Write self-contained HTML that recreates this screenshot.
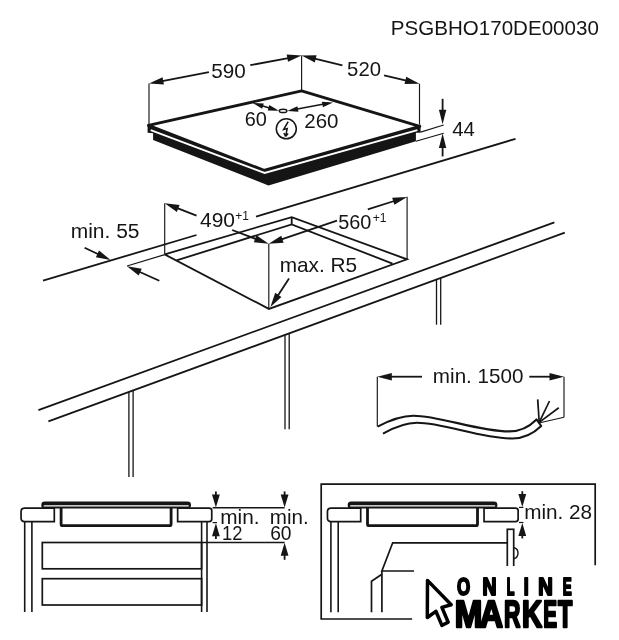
<!DOCTYPE html>
<html><head><meta charset="utf-8"><title>PSGBHO170DE00030</title>
<style>
html,body{margin:0;padding:0;background:#fff;}
svg{display:block;will-change:transform;}
svg text{font-family:"Liberation Sans",Arial,sans-serif;fill:#151515;}
svg text.lg{font-weight:bold;fill:#000;stroke:#000;stroke-linejoin:round;}
svg line,svg polyline{stroke:#151515;}
</style></head><body>
<svg width="619" height="640" viewBox="0 0 619 640">
<rect width="619" height="640" fill="#fff"/>
<text transform="translate(390.86 35.4) scale(1.0178 1)" font-size="20.2">PSGBHO170DE00030</text>
<polygon points="147.6,124.6 264,170.3 420.6,124.6 420.6,132.8 415.9,132.8 415.9,141.2 268.5,185.4 153.1,140 153.1,133.3 147.6,132.8" fill="#151515" stroke="none"/>
<polygon points="148.4,125.4 301.6,90.9 419.8,126.3 264,170.3" fill="#fff" stroke="#151515" stroke-width="2.9" stroke-linejoin="round"/>
<polyline points="150.7,130.1 264.6,173 417.4,130.2" style="stroke:#fff" stroke-width="1.9" fill="none"/>
<line x1="149" y1="83.6" x2="149" y2="124.5" stroke-width="1.15" />
<line x1="301.6" y1="55.5" x2="301.6" y2="90.9" stroke-width="1.15" />
<line x1="419.5" y1="83.7" x2="419.5" y2="124.4" stroke-width="1.15" />
<polygon points="149.00,83.60 163.94,84.52 162.55,77.25" fill="#151515" stroke="none"/>
<line x1="162.26" y1="81.08" x2="208.9" y2="72.2" stroke-width="1.8" />
<polygon points="301.60,55.50 286.67,54.56 288.04,61.83" fill="#151515" stroke="none"/>
<line x1="288.34" y1="58.01" x2="250.3" y2="65.2" stroke-width="1.8" />
<text transform="translate(211.17 78.2) scale(1.0243 1)" font-size="20.2">590</text>
<polygon points="301.60,55.50 314.83,62.48 316.56,55.29" fill="#151515" stroke="none"/>
<line x1="314.73" y1="58.65" x2="342.4" y2="65.3" stroke-width="1.8" />
<polygon points="419.50,83.70 406.25,76.75 404.54,83.95" fill="#151515" stroke="none"/>
<line x1="406.36" y1="80.58" x2="384.1" y2="75.3" stroke-width="1.8" />
<text transform="translate(347.09 75.6) scale(1.0057 1)" font-size="20.2">520</text>
<line x1="420.6" y1="132.1" x2="443.7" y2="125" stroke-width="1.15" />
<line x1="415.9" y1="141.2" x2="443.7" y2="133.2" stroke-width="1.15" />
<polygon points="442.60,124.20 446.30,109.70 438.90,109.70" fill="#151515" stroke="none"/>
<line x1="442.6" y1="110.7" x2="442.6" y2="98.8" stroke-width="1.8" />
<polygon points="442.60,133.60 438.90,148.10 446.30,148.10" fill="#151515" stroke="none"/>
<line x1="442.6" y1="147.1" x2="442.6" y2="156.4" stroke-width="1.8" />
<text transform="translate(452.29 135.5) scale(1.0087 1)" font-size="20.2">44</text>
<polygon points="252.60,103.00 262.15,108.77 263.75,103.41" fill="#151515" stroke="none"/>
<polygon points="278.90,110.70 269.29,105.03 267.75,110.41" fill="#151515" stroke="none"/>
<line x1="257" y1="104.3" x2="274.5" y2="109.4" stroke-width="1.6" />
<ellipse cx="283.1" cy="110.9" rx="3.8" ry="1.6" fill="#fff" stroke="#151515" stroke-width="1.4"/>
<polygon points="287.30,110.90 298.43,111.69 297.41,106.18" fill="#151515" stroke="none"/>
<polygon points="333.00,102.40 321.87,101.63 322.90,107.14" fill="#151515" stroke="none"/>
<line x1="292" y1="110" x2="328" y2="103.3" stroke-width="1.6" />
<text transform="translate(244.80 125.9) scale(0.9853 1)" font-size="20.2">60</text>
<text transform="translate(304.27 127.6) scale(1.0152 1)" font-size="20.2">260</text>
<circle cx="286.3" cy="128.8" r="10" fill="none" stroke="#151515" stroke-width="1.5"/>
<path d="M288.2,121.6 L283.6,129.6 L287.2,128.6 L285.6,136.4 M285.6,136.4 l-1.7,-3.4 M285.6,136.4 l2.5,-2.8" fill="none" stroke="#151515" stroke-width="1.5"/>
<line x1="43" y1="280.6" x2="196.5" y2="235" stroke-width="1.8" />
<line x1="256" y1="216.6" x2="515.5" y2="138.8" stroke-width="1.8" />
<line x1="38.4" y1="410.1" x2="554.4" y2="222.3" stroke-width="1.8" />
<line x1="48.4" y1="421.4" x2="564.8" y2="232.6" stroke-width="1.8" />
<line x1="128.9" y1="392" x2="128.9" y2="477" stroke-width="1.3" />
<line x1="133.1" y1="390.5" x2="133.1" y2="477" stroke-width="1.3" />
<line x1="285" y1="335.2" x2="285" y2="429.3" stroke-width="1.3" />
<line x1="289.2" y1="333.7" x2="289.2" y2="429.3" stroke-width="1.3" />
<line x1="436.5" y1="279.8" x2="436.5" y2="324.7" stroke-width="1.3" />
<line x1="440.7" y1="278.3" x2="440.7" y2="324.7" stroke-width="1.3" />
<polyline points="164.7,254.4 291.7,217.1 407,259.3 268.9,308.9 164.7,254.4" stroke-width="1.8" fill="none" />
<polyline points="176.5,260.4 291.7,224.4 392.5,263.6" stroke-width="1.8" fill="none" />
<line x1="291.7" y1="217.1" x2="291.7" y2="224.4" stroke-width="1.8" />
<line x1="164.7" y1="203.3" x2="164.7" y2="254.4" stroke-width="1.15" />
<line x1="268.8" y1="243.8" x2="268.8" y2="308.9" stroke-width="1.15" />
<line x1="407.1" y1="196.8" x2="407.1" y2="259.3" stroke-width="1.15" />
<line x1="127" y1="266" x2="164.7" y2="254.6" stroke-width="1.15" />
<polygon points="110.60,260.00 99.04,250.49 95.90,257.19" fill="#151515" stroke="none"/>
<line x1="98.38" y1="254.27" x2="84.6" y2="247.8" stroke-width="1.8" />
<polygon points="127.00,266.20 138.69,275.54 141.74,268.80" fill="#151515" stroke="none"/>
<line x1="139.3" y1="271.76" x2="159.3" y2="280.8" stroke-width="1.8" />
<text transform="translate(70.74 238) scale(1.0384 1)" font-size="20.2">min. 55</text>
<polygon points="164.70,203.30 176.89,211.98 179.56,205.08" fill="#151515" stroke="none"/>
<line x1="177.29" y1="208.17" x2="196.5" y2="215.6" stroke-width="1.8" />
<polygon points="268.70,243.80 256.44,235.22 253.83,242.15" fill="#151515" stroke="none"/>
<line x1="256.07" y1="239.04" x2="232.1" y2="230" stroke-width="1.8" />
<text transform="translate(199.98 226.7) scale(1.0393 1)" font-size="20.2">490</text>
<text transform="translate(235.16 219.5) scale(0.9677 1)" font-size="12.4">+1</text>
<polygon points="268.70,243.80 283.62,242.64 281.24,235.63" fill="#151515" stroke="none"/>
<line x1="281.48" y1="239.46" x2="337" y2="220.6" stroke-width="1.8" />
<polygon points="407.10,196.90 392.16,197.77 394.40,204.82" fill="#151515" stroke="none"/>
<line x1="394.24" y1="200.99" x2="367.8" y2="209.4" stroke-width="1.8" />
<text transform="translate(338.21 228.6) scale(0.9839 1)" font-size="20.2">560</text>
<text transform="translate(372.76 222.1) scale(0.9754 1)" font-size="12.4">+1</text>
<text transform="translate(279.65 272.4) scale(1.0312 1)" font-size="20.2">max. R5</text>
<polygon points="270.40,307.00 281.42,296.88 275.23,292.84" fill="#151515" stroke="none"/>
<line x1="277.78" y1="295.69" x2="289" y2="278.5" stroke-width="1.8" />
<line x1="377.3" y1="376.7" x2="377.3" y2="426.4" stroke-width="1.15" />
<line x1="564" y1="376.7" x2="564" y2="417.2" stroke-width="1.15" />
<line x1="564" y1="417.2" x2="540" y2="422.8" stroke-width="1.15" />
<polygon points="377.30,376.70 391.80,380.40 391.80,373.00" fill="#151515" stroke="none"/>
<line x1="390.8" y1="376.7" x2="422" y2="376.7" stroke-width="1.8" />
<polygon points="564.00,376.70 549.50,373.00 549.50,380.40" fill="#151515" stroke="none"/>
<line x1="550.5" y1="376.7" x2="529.3" y2="376.7" stroke-width="1.8" />
<text transform="translate(432.86 382.9) scale(1.0224 1)" font-size="20.2">min. 1500</text>
<path d="M377.6,426.6 C390,420 402,415.7 413.3,415.7 C440,415.7 478,431.4 509,431.4 C520,431.4 530,426 536.5,419.4 L541.2,426 C534,433 524,438.5 512.3,438.5 C481,438.5 444,422.8 416.9,422.8 C405,422.8 394,427.5 383,433.6" fill="none" stroke="#151515" stroke-width="2.1" stroke-linejoin="round"/>
<line x1="539.2" y1="422.4" x2="537.7" y2="399.4" stroke-width="1.7" />
<line x1="539.2" y1="422.4" x2="549.5" y2="401" stroke-width="1.7" />
<line x1="539.2" y1="422.4" x2="558.8" y2="407.8" stroke-width="1.7" />
<g transform="translate(0 0)">
<path d="M54.3,508.05 H24.6 Q21.05,508.05 21.05,511.6 V518.1 Q21.05,521.65 24.6,521.65 H54.3 Z" fill="#fff" stroke="#151515" stroke-width="1.7"/>
<path d="M177.65,508.05 H209.2 Q211.75,508.05 211.75,510.6 V519.1 Q211.75,521.65 209.2,521.65 H177.65 Z" fill="#fff" stroke="#151515" stroke-width="1.7"/>
<path d="M61.1,508 V523.9 Q61.1,525.7 62.9,525.7 H169.3 Q171.1,525.7 171.1,523.9 V508" fill="none" stroke="#151515" stroke-width="2.8"/>
<rect x="41.3" y="501.5" width="149.7" height="7.1" rx="3.4" ry="3.4" fill="#151515" stroke="none"/>
<line x1="44.3" y1="505.9" x2="188.2" y2="505.9" style="stroke:#fff" stroke-width="1.3" stroke-linecap="round"/>
</g>
<line x1="24.7" y1="522" x2="24.7" y2="612" stroke-width="1.6" />
<line x1="31.9" y1="522" x2="31.9" y2="612" stroke-width="1.6" />
<line x1="201.6" y1="522" x2="201.6" y2="612" stroke-width="1.6" />
<line x1="207" y1="522" x2="207" y2="612" stroke-width="1.6" />
<rect x="42.3" y="542.5" width="159.3" height="26.3" fill="none" stroke="#151515" stroke-width="1.7"/>
<rect x="42.3" y="578.7" width="159.3" height="26.3" fill="none" stroke="#151515" stroke-width="1.7"/>
<line x1="212.6" y1="507.7" x2="284.6" y2="507.7" stroke-width="1.4" />
<line x1="212.6" y1="522.6" x2="217" y2="522.6" stroke-width="1.2" />
<line x1="202" y1="542.5" x2="284.6" y2="542.5" stroke-width="1.4" />
<polygon points="215.90,507.40 219.80,494.40 212.00,494.40" fill="#151515" stroke="none"/>
<line x1="215.9" y1="495.4" x2="215.9" y2="491.4" stroke-width="1.8" />
<polygon points="215.90,523.20 212.00,536.20 219.80,536.20" fill="#151515" stroke="none"/>
<line x1="215.9" y1="535.2" x2="215.9" y2="539" stroke-width="1.8" />
<polygon points="284.60,507.40 288.50,494.40 280.70,494.40" fill="#151515" stroke="none"/>
<line x1="284.6" y1="495.4" x2="284.6" y2="491.4" stroke-width="1.8" />
<polygon points="284.60,542.80 280.70,555.80 288.50,555.80" fill="#151515" stroke="none"/>
<line x1="284.6" y1="554.8" x2="284.6" y2="559.8" stroke-width="1.8" />
<text transform="translate(220.25 523.9) scale(1.0509 1)" font-size="19.8">min.</text>
<text transform="translate(222.02 540.4) scale(0.9285 1)" font-size="19.8">12</text>
<text transform="translate(269.76 523.9) scale(1.0421 1)" font-size="19.8">min.</text>
<text transform="translate(270.14 540.4) scale(0.9707 1)" font-size="19.8">60</text>
<polyline points="412.1,619 321.2,619 321.2,484.1 595.2,484.1 595.2,565.3" stroke-width="1.7" fill="none" />
<g transform="translate(306.4 0)">
<path d="M54.3,508.05 H24.6 Q21.05,508.05 21.05,511.6 V518.1 Q21.05,521.65 24.6,521.65 H54.3 Z" fill="#fff" stroke="#151515" stroke-width="1.7"/>
<path d="M177.65,508.05 H209.2 Q211.75,508.05 211.75,510.6 V519.1 Q211.75,521.65 209.2,521.65 H177.65 Z" fill="#fff" stroke="#151515" stroke-width="1.7"/>
<path d="M61.1,508 V523.9 Q61.1,525.7 62.9,525.7 H169.3 Q171.1,525.7 171.1,523.9 V508" fill="none" stroke="#151515" stroke-width="2.8"/>
<rect x="41.3" y="501.5" width="149.7" height="7.1" rx="3.4" ry="3.4" fill="#151515" stroke="none"/>
<line x1="44.3" y1="505.9" x2="188.2" y2="505.9" style="stroke:#fff" stroke-width="1.3" stroke-linecap="round"/>
</g>
<line x1="330.9" y1="522" x2="330.9" y2="612.3" stroke-width="1.6" />
<line x1="338.2" y1="522" x2="338.2" y2="612.3" stroke-width="1.6" />
<polyline points="414.7,571 381.9,571 392.7,542.8 507,542.8" stroke-width="1.7" fill="none" />
<line x1="381.9" y1="571" x2="381.9" y2="612.3" stroke-width="1.7" />
<polyline points="381.9,574.3 371.5,581.3 371.5,612.3" stroke-width="1.7" fill="none" />
<rect x="507.3" y="529.3" width="6.4" height="40" fill="#fff" stroke="#151515" stroke-width="1.7"/>
<path d="M514,547.7 Q518,548.6 518,553.1 Q518,557.8 514,558.7" fill="none" stroke="#151515" stroke-width="1.4"/>
<line x1="519" y1="507.4" x2="523.4" y2="507.4" stroke-width="1.2" />
<line x1="519" y1="522.5" x2="523.4" y2="522.5" stroke-width="1.2" />
<polygon points="522.30,507.00 526.20,494.00 518.40,494.00" fill="#151515" stroke="none"/>
<line x1="522.3" y1="495.0" x2="522.3" y2="491.2" stroke-width="1.8" />
<polygon points="522.30,522.90 518.40,535.90 526.20,535.90" fill="#151515" stroke="none"/>
<line x1="522.3" y1="534.9" x2="522.3" y2="538.4" stroke-width="1.8" />
<text transform="translate(524.15 518.8) scale(1.0574 1)" font-size="19.6">min. 28</text>
<rect x="414" y="566" width="205" height="74" fill="#fff" stroke="none"/>
<path d="M427.5,580.4 L451.2,604.8 L441.9,607.4 L448.2,622.2 L441.9,625.4 L435.9,611.3 L427.3,617.5 Z" fill="#fff" stroke="#000" stroke-width="3.5" stroke-linejoin="round"/>
<text class="lg" y="595.3" font-size="23" stroke-width="2.0"><tspan x="456.96" textLength="13.15" lengthAdjust="spacingAndGlyphs">O</tspan><tspan x="482.58" textLength="13.98" lengthAdjust="spacingAndGlyphs">N</tspan><tspan x="506.83" textLength="7.75" lengthAdjust="spacingAndGlyphs">L</tspan><tspan x="523.72" textLength="4.92" lengthAdjust="spacingAndGlyphs">I</tspan><tspan x="538.37" textLength="14.51" lengthAdjust="spacingAndGlyphs">N</tspan><tspan x="562.81" textLength="9.00" lengthAdjust="spacingAndGlyphs">E</tspan></text>
<text class="lg" y="626.9" font-size="36" stroke-width="2.4"><tspan x="454.75" textLength="27.53" lengthAdjust="spacingAndGlyphs">M</tspan><tspan x="479.77" textLength="23.17" lengthAdjust="spacingAndGlyphs">A</tspan><tspan x="504.08" textLength="16.45" lengthAdjust="spacingAndGlyphs">R</tspan><tspan x="522.02" textLength="20.05" lengthAdjust="spacingAndGlyphs">K</tspan><tspan x="543.24" textLength="13.83" lengthAdjust="spacingAndGlyphs">E</tspan><tspan x="558.05" textLength="14.31" lengthAdjust="spacingAndGlyphs">T</tspan></text>
</svg>
</body></html>
